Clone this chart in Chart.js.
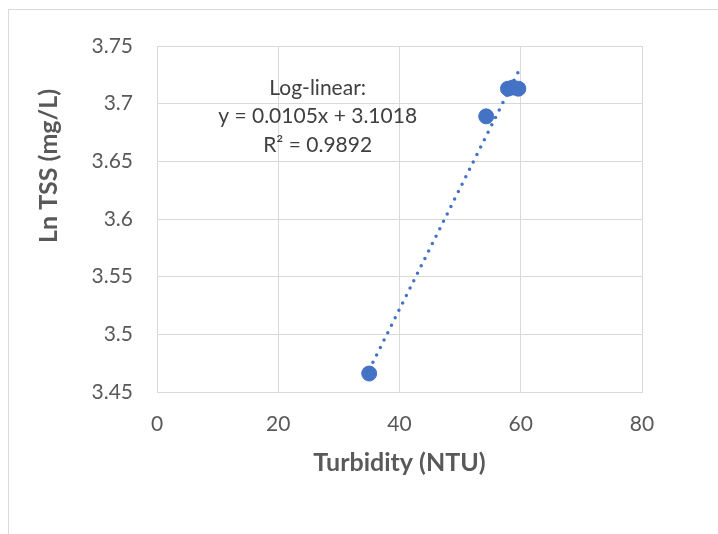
<!DOCTYPE html>
<html>
<head>
<meta charset="utf-8">
<script src="https://cdn.jsdelivr.net/npm/chart.js@4"></script>
<style>
  html, body { margin: 0; padding: 0; background: #fff; overflow: hidden; }
  #wrap { position: relative; width: 718px; height: 534px; }
  #frame { position: absolute; left: 8px; top: 9px; width: 800px; height: 700px; border: 1px solid #d9d9d9; box-sizing: border-box; }
  canvas { position: absolute; left: 0; top: 0; }
</style>
</head>
<body>
<div id="wrap">
  <div id="frame"></div>
  <canvas id="chart" width="718" height="534"></canvas>
</div>
<script>
// dati
const turbidity = [35.0, 54.3, 57.9, 58.7, 59.6];
const lnTss = [3.466, 3.689, 3.713, 3.714, 3.713];

// retta di tendenza (dall'etichetta)
const slope = 0.0105;
const intercept = 3.1018;
const eqLines = ['Log-linear:', 'y = 0.0105x + 3.1018', 'R\u00b2 = 0.9892'];

const xTicks = [0, 20, 40, 60, 80];
const yTicks = [3.45, 3.5, 3.55, 3.6, 3.65, 3.7, 3.75];
const yTitle = 'Ln TSS (mg/L)';

const FONT = 'Lato, "Open Sans", sans-serif';

const xMin = Math.min(...turbidity);
const xMax = Math.max(...turbidity);
const trend = [
    { x: xMin, y: slope * xMin + intercept },
    { x: xMax, y: slope * xMax + intercept }
];

// etichetta equazione + titolo asse Y (spostato in alto come nell'originale)
const labels = {
    id: 'labels',
    afterDatasetsDraw(chart) {
        const { ctx, scales, chartArea } = chart;
        const cx = scales.x.getPixelForValue(26.5);
        const y0 = scales.y.getPixelForValue(3.7135);
        ctx.save();
        ctx.font = '21px ' + FONT;
        ctx.fillStyle = '#404040';
        ctx.textAlign = 'center';
        ctx.textBaseline = 'middle';
        eqLines.forEach((t, i) => ctx.fillText(t, cx, y0 + i * 28.5));

        ctx.translate(49, chartArea.top + 120);
        ctx.rotate(-Math.PI / 2);
        ctx.font = 'bold 25px ' + FONT;
        ctx.fillStyle = '#595959';
        ctx.fillText(yTitle, 0, 0);
        ctx.restore();
    }
};

new Chart(document.getElementById('chart'), {
    type: 'scatter',
    data: {
        datasets: [
            {
                label: 'Trend',
                type: 'line',
                data: trend,
                borderColor: '#4472C4',
                borderWidth: 3.5,
                borderDash: [0, 8.3],
                borderCapStyle: 'round',
                pointRadius: 0,
                fill: false,
                order: 2
            },
            {
                label: 'Ln TSS',
                data: turbidity.map((x, i) => ({ x: x, y: lnTss[i] })),
                backgroundColor: '#4472C4',
                borderColor: '#4472C4',
                pointRadius: 7.5,
                pointHoverRadius: 7.5,
                order: 1
            }
        ]
    },
    options: {
        responsive: false,
        animation: false,
        layout: { padding: { top: 46, right: 76, left: 0, bottom: 0 } },
        plugins: { legend: { display: false }, tooltip: { enabled: false } },
        scales: {
            x: {
                type: 'linear',
                min: 0, max: 80,
                afterBuildTicks: s => { s.ticks = xTicks.map(v => ({ value: v })); },
                afterFit: s => { s.height = 142; },
                grid: { color: '#d9d9d9', lineWidth: 1, drawTicks: false },
                border: { color: '#d9d9d9' },
                ticks: { color: '#595959', font: { family: FONT, size: 21 }, padding: 20 },
                title: {
                    display: true,
                    text: 'Turbidity (NTU)',
                    color: '#595959',
                    font: { family: FONT, size: 25, weight: 'bold' },
                    padding: { top: 0, bottom: 56 }
                }
            },
            y: {
                type: 'linear',
                min: 3.45, max: 3.75,
                afterBuildTicks: s => { s.ticks = yTicks.map(v => ({ value: v })); },
                afterFit: s => { s.width = 157; },
                grid: { color: '#d9d9d9', lineWidth: 1, drawTicks: false },
                border: { color: '#d9d9d9' },
                ticks: { color: '#595959', font: { family: FONT, size: 21 }, padding: 24,
                         callback: v => String(+v.toFixed(2)) },
                title: { display: false }
            }
        }
    },
    plugins: [labels]
});
</script>
</body>
</html>
